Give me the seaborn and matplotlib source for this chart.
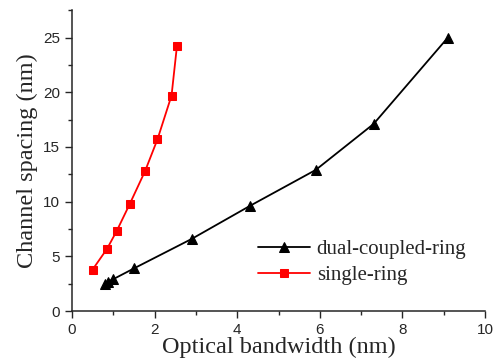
import matplotlib
matplotlib.use("Agg")
import matplotlib.pyplot as plt
import seaborn as sns
import pandas as pd
from matplotlib.ticker import MultipleLocator

dual_x = [0.80, 0.87, 0.99, 1.50, 2.90, 4.30, 5.90, 7.30, 9.10]
dual_y = [2.5, 2.7, 2.9, 3.9, 6.6, 9.6, 12.9, 17.1, 25.0]
single_x = [0.50, 0.85, 1.08, 1.40, 1.77, 2.07, 2.41, 2.54]
single_y = [3.8, 5.7, 7.3, 9.8, 12.8, 15.7, 19.7, 24.2]

sns.set_style("ticks")
plt.rcParams['font.family'] = ['Liberation Sans', 'DejaVu Sans']

fig = plt.figure(figsize=(4.93, 3.63), dpi=100)
ax = fig.add_axes([0.146, 0.143, 0.838, 0.829])

df1 = pd.DataFrame({"x": dual_x, "y": dual_y})
df2 = pd.DataFrame({"x": single_x, "y": single_y})
sns.lineplot(data=df1, x="x", y="y", ax=ax, color="black", marker="^", markersize=7,
             markeredgecolor="black", linewidth=1.3, label="dual-coupled-ring", sort=False)
sns.lineplot(data=df2, x="x", y="y", ax=ax, color="#ff0000", marker="s", markersize=6,
             markeredgecolor="#ff0000", linewidth=1.3, label="single-ring", sort=False)

ax.set_xlim(0, 10)
ax.set_ylim(0, 27.5)
ax.xaxis.set_major_locator(MultipleLocator(2))
ax.xaxis.set_minor_locator(MultipleLocator(1))
ax.yaxis.set_major_locator(MultipleLocator(5))
ax.yaxis.set_minor_locator(MultipleLocator(2.5))
ax.tick_params(which="major", length=5, width=1, labelsize=11, direction="out")
ax.tick_params(which="minor", length=3, width=1, direction="out")
for s in ["top", "right"]:
    ax.spines[s].set_visible(False)
for s in ["left", "bottom"]:
    ax.spines[s].set_linewidth(1.1)

ax.set_xlabel("Optical bandwidth (nm)", fontsize=17.5, family="Liberation Serif", labelpad=0)
ax.set_ylabel("Channel spacing (nm)", fontsize=17.5, family="Liberation Serif", labelpad=4)

leg = ax.legend(loc="lower right", bbox_to_anchor=(1.0, 0.025), frameon=False,
                prop={"family": "Liberation Serif", "size": 15}, handlelength=2.5,
                handletextpad=0.3, labelspacing=0.3)

fig.savefig("out.png", dpi=100)
